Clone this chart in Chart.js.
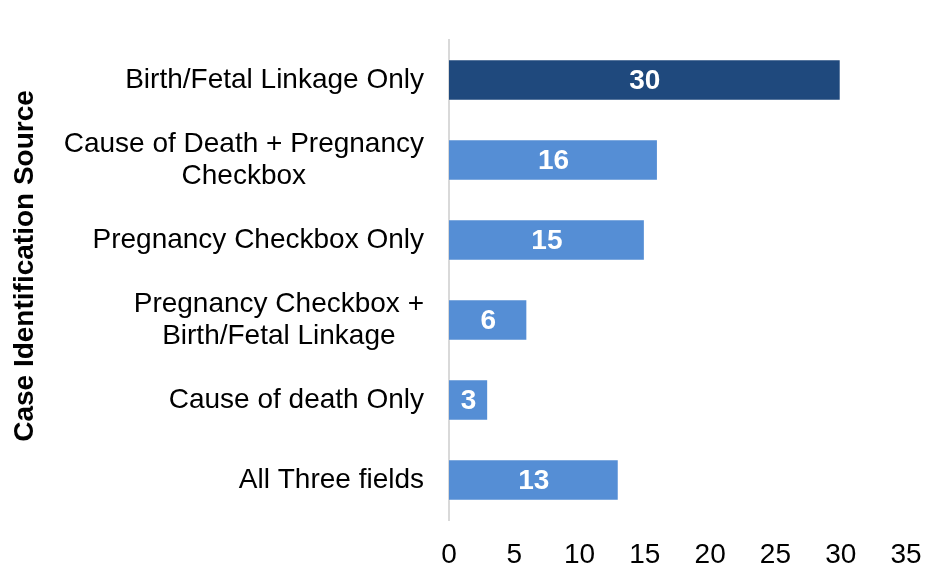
<!DOCTYPE html>
<html>
<head>
<meta charset="utf-8">
<script src="https://cdn.jsdelivr.net/npm/chart.js@4"></script>
<style>
  html, body { margin: 0; padding: 0; background: #fff; }
  canvas { display: block; }
</style>
</head>
<body>
<canvas id="chart" width="936" height="581"></canvas>
<script>
var categories = [
  "Birth/Fetal Linkage Only",
  ["Cause of Death + Pregnancy", "Checkbox"],
  "Pregnancy Checkbox Only",
  ["Pregnancy Checkbox +", "Birth/Fetal Linkage"],
  "Cause of death Only",
  "All Three fields"
];
var counts = [30, 16, 15, 6, 3, 13];
var barColors = ["#1F497D", "#558ED5", "#558ED5", "#558ED5", "#558ED5", "#558ED5"];
var axisTitle = "Case Identification Source";

var FONT = "'Liberation Sans', Arial, sans-serif";

// category labels: block right aligned, lines centred inside the block
var yLabels = {
  id: "yLabels",
  afterDraw: function (chart) {
    var ctx = chart.ctx;
    var ys = chart.scales.y;
    ctx.save();
    ctx.font = "28px " + FONT;
    ctx.fillStyle = "#000";
    ctx.textAlign = "center";
    ctx.textBaseline = "middle";
    categories.forEach(function (lab, i) {
      var lines = Array.isArray(lab) ? lab : [lab];
      var w = 0;
      lines.forEach(function (l) { w = Math.max(w, ctx.measureText(l).width); });
      var cx = ys.right - 25 - w / 2;
      var cy = ys.getPixelForValue(i);
      var lh = 32;
      lines.forEach(function (l, j) {
        ctx.fillText(l, cx, cy + (j - (lines.length - 1) / 2) * lh);
      });
    });

    // axis title
    ctx.font = "bold 28px " + FONT;
    ctx.translate(24, 266);
    ctx.rotate(-Math.PI / 2);
    ctx.fillText(axisTitle, 0, 1);
    ctx.restore();
  }
};

// value labels in the middle of each bar
var barValues = {
  id: "barValues",
  afterDatasetsDraw: function (chart) {
    var ctx = chart.ctx;
    var meta = chart.getDatasetMeta(0);
    ctx.save();
    ctx.font = "bold 28px " + FONT;
    ctx.fillStyle = "#fff";
    ctx.textAlign = "center";
    ctx.textBaseline = "middle";
    meta.data.forEach(function (bar, i) {
      ctx.fillText(String(counts[i]), (bar.x + bar.base) / 2, bar.y + 1);
    });
    ctx.restore();
  }
};

new Chart(document.getElementById("chart"), {
  type: "bar",
  data: {
    labels: categories,
    datasets: [{
      data: counts,
      backgroundColor: barColors,
      borderColor: "rgba(255,255,255,0.25)",
      borderWidth: 1,
      barPercentage: 0.52,
      categoryPercentage: 1.0
    }]
  },
  options: {
    indexAxis: "y",
    responsive: false,
    animation: false,
    layout: { padding: { top: 40, right: 0, left: 0, bottom: 0 } },
    plugins: {
      legend: { display: false },
      tooltip: { enabled: false }
    },
    scales: {
      x: {
        min: 0,
        max: 35,
        grid: { display: false, drawTicks: false },
        border: { display: false },
        ticks: {
          stepSize: 5,
          padding: 18,
          color: "#000",
          font: { family: FONT, size: 28 }
        },
        afterFit: function (s) { s.height = 61; s.paddingRight = 30; }
      },
      y: {
        grid: { display: false, drawTicks: false },
        border: { display: true, color: "#d9d9d9", width: 2 },
        ticks: { display: false },
        afterFit: function (s) { s.width = 449; }
      }
    }
  },
  plugins: [yLabels, barValues]
});
</script>
</body>
</html>
